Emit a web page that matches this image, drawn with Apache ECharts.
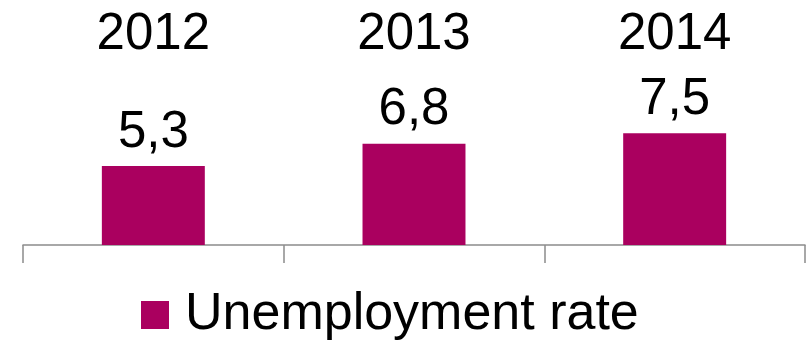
<!DOCTYPE html>
<html>
<head>
<meta charset="utf-8">
<script src="https://cdn.jsdelivr.net/npm/echarts@6/dist/echarts.min.js"></script>
<style>
  html, body { margin: 0; padding: 0; background: #fff; }
  #chart { width: 809px; height: 344px; }
</style>
</head>
<body>
<div id="chart"></div>
<script>
// Unemployment rate by year (%)
var years = ['2012', '2013', '2014'];
var unemploymentRate = [5.3, 6.8, 7.5];
var seriesName = 'Unemployment rate';

var FONT = '"Liberation Sans", Arial, sans-serif';
var BAR_COLOR = '#AA005F';

var chart = echarts.init(document.getElementById('chart'), null, { renderer: 'canvas' });

chart.setOption({
  animation: false,
  backgroundColor: '#ffffff',
  textStyle: { fontFamily: FONT },
  grid: { left: 23, right: 4, top: 96, bottom: 99, containLabel: false },
  legend: {
    data: [seriesName],
    left: 141,
    top: 289,
    padding: 0,
    icon: 'rect',
    itemWidth: 28,
    itemHeight: 28,
    textStyle: { fontSize: 52, color: '#000', fontFamily: FONT, padding: [0, 0, 0, 11] }
  },
  xAxis: [
    {
      type: 'category',
      data: years,
      position: 'bottom',
      axisLine: { show: true, lineStyle: { color: '#8c8c8c', width: 1.5 } },
      axisTick: { show: true, length: 18, alignWithLabel: false, lineStyle: { color: '#8c8c8c', width: 1.5 } },
      axisLabel: { show: false }
    },
    {
      // year labels above the plot
      type: 'category',
      data: years,
      position: 'top',
      axisLine: { show: false },
      axisTick: { show: false },
      axisLabel: { show: true, fontSize: 51, color: '#000', fontFamily: FONT, margin: 36 }
    }
  ],
  yAxis: {
    type: 'value',
    min: 0,
    max: 10,
    show: false,
    splitLine: { show: false }
  },
  series: [
    {
      name: seriesName,
      type: 'bar',
      xAxisIndex: 0,
      data: unemploymentRate,
      barWidth: '39.5%',
      itemStyle: { color: BAR_COLOR },
      label: {
        show: true,
        position: 'top',
        distance: 8,
        fontSize: 51,
        color: '#000',
        fontFamily: FONT,
        formatter: function (p) { return String(p.value).replace('.', ','); }
      }
    }
  ]
});
</script>
</body>
</html>
